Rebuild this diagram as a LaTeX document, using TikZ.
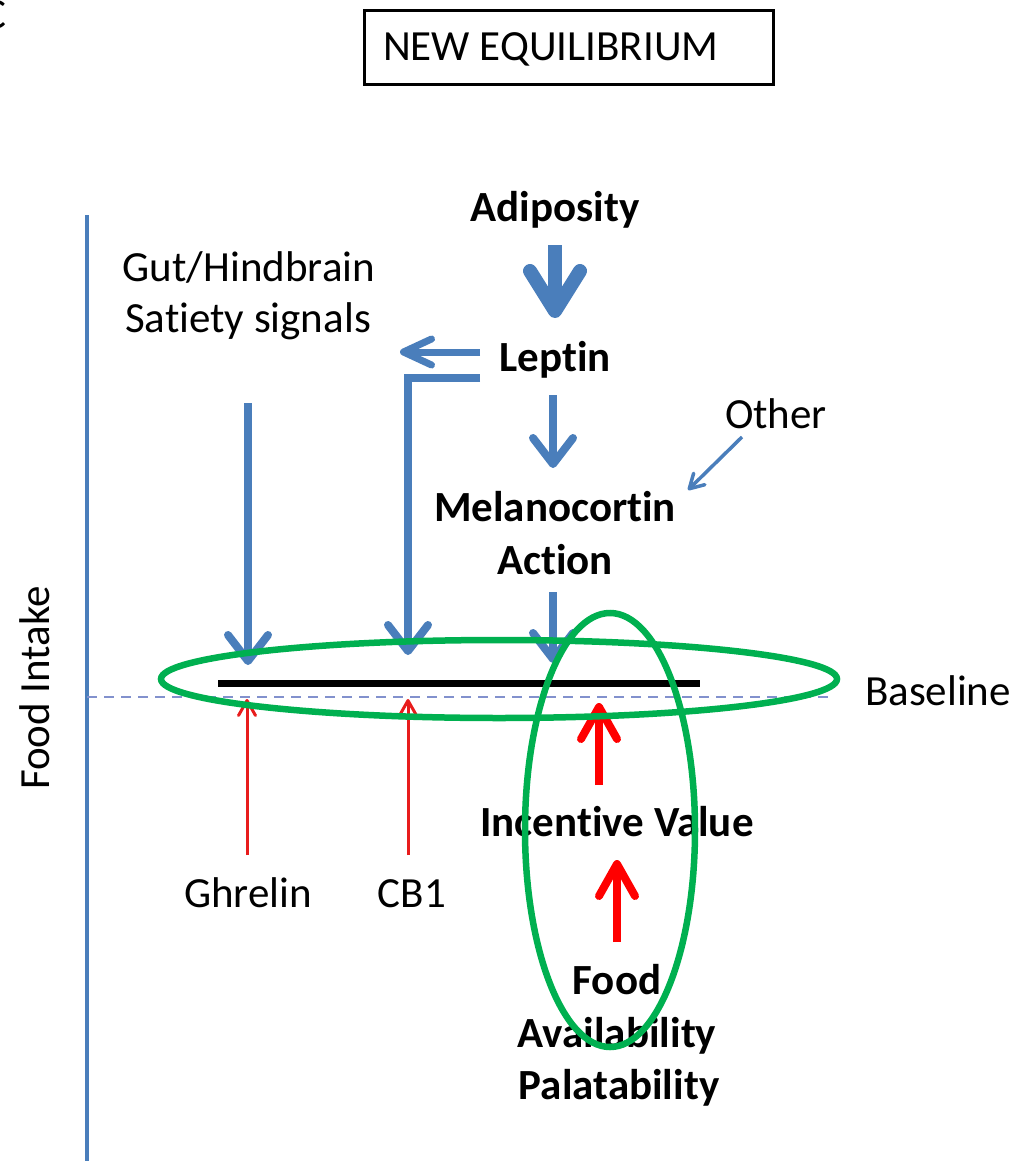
\documentclass[tikz,border=0pt]{standalone}
\usepackage{fontspec}
\setmainfont{Carlito}[Ligatures=NoCommon]
\usetikzlibrary{arrows.meta}
\definecolor{sigblue}{RGB}{74,126,187}
\definecolor{ringgreen}{RGB}{0,176,80}
\definecolor{drivered}{RGB}{255,0,0}
\definecolor{thinred}{RGB}{232,28,28}
\definecolor{baseblue}{RGB}{130,145,205}
\begin{document}
\begin{tikzpicture}[x=1pt,y=-1pt,
  lbl/.style={font=\fontsize{43}{52}\selectfont, inner sep=0pt, anchor=base},
  blbl/.style={font=\fontsize{43}{52}\selectfont\bfseries, inner sep=0pt, anchor=base},
  bigarrow/.style={draw=sigblue, line width=14pt,
    -{Straight Barb[length=40pt,width=50pt,line cap=round,line join=round]}},
  bluearrow/.style={draw=sigblue, line width=8pt,
    -{Straight Barb[length=26pt,width=40pt,line cap=round,line join=round]}},
  sidearrow/.style={draw=sigblue, line width=7pt,
    -{Straight Barb[length=28pt,width=26pt,line cap=round,line join=round]}},
  finearrow/.style={draw=sigblue, line width=3.5pt,
    -{Straight Barb[length=14pt,width=16pt,line cap=round,line join=round]}},
  redbig/.style={draw=drivered, line width=8pt,
    -{Straight Barb[length=32pt,width=36pt,line cap=round,line join=round]}},
  redthin/.style={draw=thinred, line width=3pt,
    -{Straight Barb[length=15pt,width=17pt,line cap=round,line join=round]}},
  ring/.style={draw=ringgreen, line width=6.5pt}]
\useasboundingbox (0,0) rectangle (1017,1161);

% panel letter and heading box
\node[lbl, anchor=base east] (panel) at (7,29) {C};
\node[draw, line width=3pt, minimum width=409pt, minimum height=74pt, inner sep=0pt] (box) at (569,47.5) {};
\node[lbl, anchor=base west] (title) at (383,61) {NEW EQUILIBRIUM};

% axis, baseline and equilibrium bar
\coordinate (axtop) at (87,215);
\coordinate (axbot) at (87,1161);
\draw[sigblue, line width=4pt] (axtop) -- (axbot);
\node[lbl, rotate=90] (intake) at (49,688) {Food Intake};
\coordinate (dl) at (87,697);
\coordinate (dr) at (830,697);
\draw[baseblue, line width=2pt, dash pattern=on 10pt off 7pt] (dl) -- (dr);
\node[lbl] (baseline) at (938,705) {Baseline};
\coordinate (barl) at (218,683);
\coordinate (barr) at (700,683);
\draw[black, line width=7pt] (barl) -- (barr);

% labels
\node[blbl] (adip) at (555,222) {Adiposity};
\node[lbl] (gut1) at (249,281) {Gut/Hindbrain};
\node[lbl] (gut2) at (248,332) {Satiety signals};
\node[blbl] (lep) at (555,371) {Leptin};
\node[lbl] (other) at (776,428) {Other};
\node[blbl] (mc1) at (555,521) {Melanocortin};
\node[blbl] (mc2) at (555,574) {Action};
\node[lbl] (ghr) at (248,907) {Ghrelin};
\node[lbl] (cb) at (412,907) {CB1};
\node[blbl] (inc) at (617,836) {Incentive Value};
\node[blbl] (fa1) at (617,994) {Food};
\node[blbl] (fa2) at (617,1047) {Availability};
\node[blbl] (fa3) at (619,1099) {Palatability};

% inhibitory (blue) signals
\coordinate (a1) at (555,245);  \coordinate (a2) at (555,318);
\draw[bigarrow] (a1) -- (a2);
\coordinate (l1) at (480,352);  \coordinate (l2) at (400,352);
\draw[sidearrow] (l1) -- (l2);
\coordinate (c1) at (480,378);  \coordinate (c2) at (408,378);  \coordinate (c3) at (408,655);
\draw[bluearrow, line join=miter] (c1) -- (c2) -- (c3);
\coordinate (g1) at (248,403);  \coordinate (g2) at (248,665);
\draw[bluearrow] (g1) -- (g2);
\coordinate (m1) at (553,395);  \coordinate (m2) at (553,468);
\draw[bluearrow] (m1) -- (m2);
\coordinate (m3) at (553,592);  \coordinate (m4) at (553,663);
\draw[bluearrow] (m3) -- (m4);
\coordinate (o1) at (742,437);  \coordinate (o2) at (688,490);
\draw[finearrow] (o1) -- (o2);

% stimulatory (red) signals
\coordinate (r1) at (247,855);  \coordinate (r2) at (247,699);
\draw[redthin] (r1) -- (r2);
\coordinate (r3) at (408,855);  \coordinate (r4) at (408,699);
\draw[redthin] (r3) -- (r4);
\coordinate (r5) at (599,785);  \coordinate (r6) at (599,703);
\draw[redbig] (r5) -- (r6);
\coordinate (r7) at (617,942);  \coordinate (r8) at (617,860);
\draw[redbig] (r7) -- (r8);

% highlight rings
\draw[ring] (499,679) ellipse [x radius=338, y radius=39];
\draw[ring] (610,830) ellipse [x radius=85, y radius=217];
\end{tikzpicture}
\end{document}
